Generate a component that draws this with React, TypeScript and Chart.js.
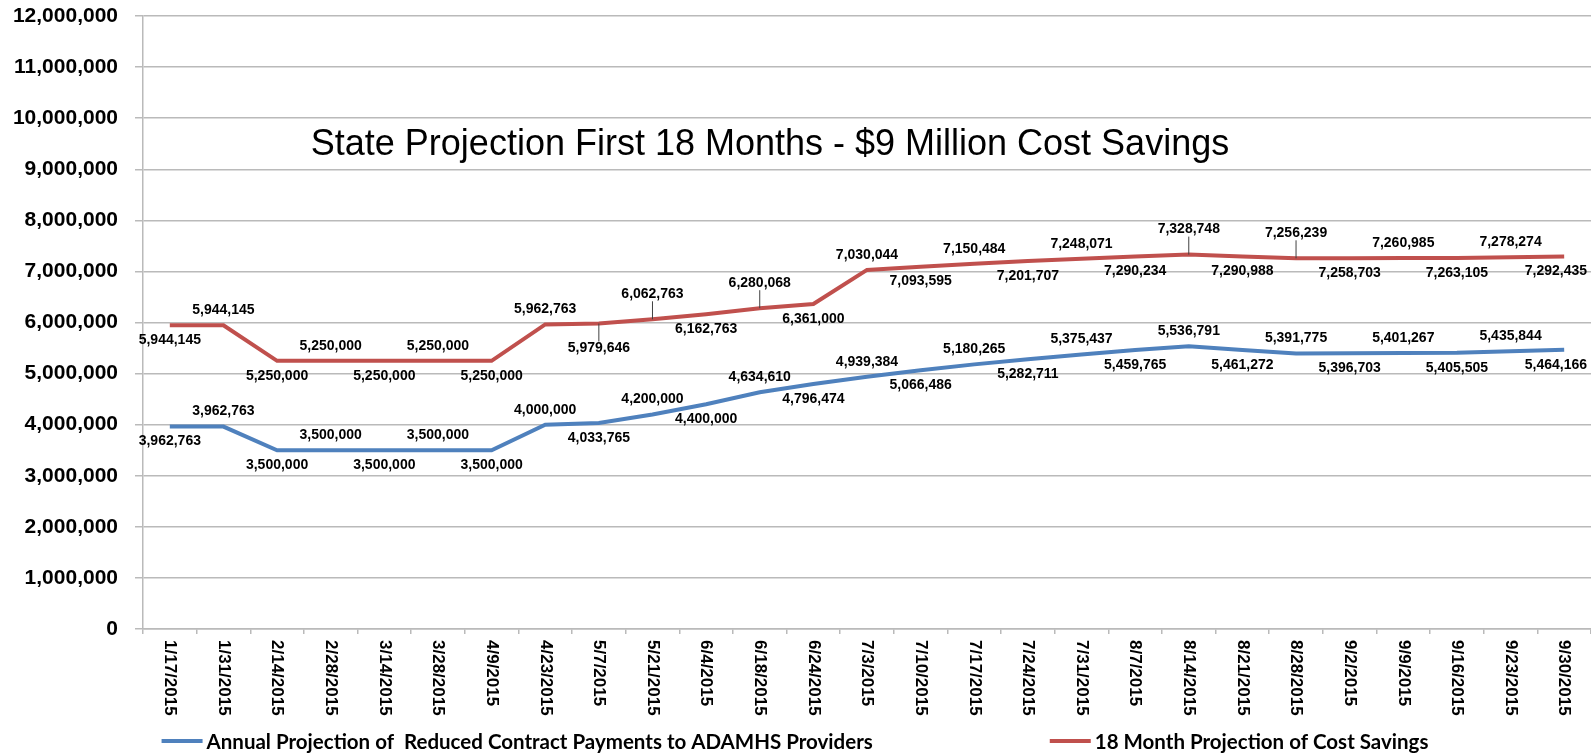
import React, { useEffect, useRef } from 'react';
import { Chart, registerables } from 'chart.js';

Chart.register(...registerables);

const categories = [
  '1/17/2015', '1/31/2015', '2/14/2015', '2/28/2015', '3/14/2015', '3/28/2015', '4/9/2015',
  '4/23/2015', '5/7/2015', '5/21/2015', '6/4/2015', '6/18/2015', '6/24/2015', '7/3/2015',
  '7/10/2015', '7/17/2015', '7/24/2015', '7/31/2015', '8/7/2015', '8/14/2015', '8/21/2015',
  '8/28/2015', '9/2/2015', '9/9/2015', '9/16/2015', '9/23/2015', '9/30/2015',
];

const annualProjection = [
  3962763, 3962763, 3500000, 3500000, 3500000, 3500000, 3500000,
  4000000, 4033765, 4200000, 4400000, 4634610, 4796474, 4939384,
  5066486, 5180265, 5282711, 5375437, 5459765, 5536791, 5461272,
  5391775, 5396703, 5401267, 5405505, 5435844, 5464166,
];

const costSavings = [
  5944145, 5944145, 5250000, 5250000, 5250000, 5250000, 5250000,
  5962763, 5979646, 6062763, 6162763, 6280068, 6361000, 7030044,
  7093595, 7150484, 7201707, 7248071, 7290234, 7328748, 7290988,
  7256239, 7258703, 7260985, 7263105, 7278274, 7292435,
];

const seriesNames = [
  'Annual Projection of  Reduced Contract Payments to ADAMHS Providers',
  '18 Month Projection of Cost Savings',
];

const chartTitle = 'State Projection First 18 Months - $9 Million Cost Savings';

const yMin = 0;
const yMax = 12000000;
const yStep = 1000000;

// indices of the red series whose labels sit farther out with a leader line
const leaderPoints = [8, 9, 11, 19, 21];

const BLUE = '#4F81BD';
const RED = '#C0504D';
const GRID = '#BABABA';
const FONT = '"Liberation Sans", Arial, sans-serif';

const fmt = (v: number) => Math.round(v).toLocaleString('en-US');

const overlayPlugin = {
  id: 'overlay',
  afterDatasetsDraw(chart: any) {
    const ctx = chart.ctx as CanvasRenderingContext2D;
    ctx.save();
    ctx.font = `bold 14px ${FONT}`;
    ctx.fillStyle = '#000';
    ctx.textAlign = 'center';
    ctx.textBaseline = 'middle';
    chart.data.datasets.forEach((ds: any, di: number) => {
      const meta = chart.getDatasetMeta(di);
      meta.data.forEach((pt: any, i: number) => {
        const v = ds.data[i] as number;
        const above = i % 2 === 1;
        const leader = di === 1 && leaderPoints.includes(i);
        const off = leader ? 25 : 15;
        const text = fmt(v);
        const w = ctx.measureText(text).width;
        let x = pt.x;
        const y = above ? pt.y - off : pt.y + off;
        x = Math.min(x, chart.width - w / 2 - 4);
        if (leader) {
          ctx.save();
          ctx.strokeStyle = '#404040';
          ctx.lineWidth = 1;
          ctx.beginPath();
          ctx.moveTo(pt.x, pt.y);
          ctx.lineTo(x, above ? y + 7 : y - 7);
          ctx.stroke();
          ctx.restore();
        }
        ctx.fillText(text, x, y);
      });
    });
    ctx.restore();
  },
  afterDraw(chart: any) {
    const ctx = chart.ctx as CanvasRenderingContext2D;
    const area = chart.chartArea;
    const xs = chart.scales.x;
    const ys = chart.scales.y;

    // title inside plot area
    ctx.save();
    ctx.font = `36px ${FONT}`;
    ctx.fillStyle = '#000';
    ctx.textAlign = 'center';
    ctx.textBaseline = 'middle';
    ctx.fillText(chartTitle, area.left + (area.right - area.left) * 0.433, ys.getPixelForValue(9476000));
    ctx.restore();

    // rotated x labels (reading top to bottom)
    ctx.save();
    ctx.font = `bold 17px ${FONT}`;
    ctx.fillStyle = '#000';
    ctx.textAlign = 'left';
    ctx.textBaseline = 'middle';
    categories.forEach((lab, i) => {
      const x = xs.getPixelForValue(i);
      ctx.save();
      ctx.translate(x, xs.top + 11);
      ctx.rotate(Math.PI / 2);
      ctx.fillText(lab, 0, 0);
      ctx.restore();
    });
    ctx.restore();

    // legend at the bottom
    ctx.save();
    ctx.font = `bold 20.5px Lato, ${FONT}`;
    ctx.textBaseline = 'middle';
    ctx.textAlign = 'left';
    ctx.fillStyle = '#000';
    const lineW = 41;
    const gapA = 4;
    const gapB = 177;
    const w1 = ctx.measureText(seriesNames[0]).width;
    const w2 = ctx.measureText(seriesNames[1]).width;
    const total = lineW + gapA + w1 + gapB + lineW + gapA + w2;
    let x = 795 - total / 2;
    const y = 741;
    const colors = [BLUE, RED];
    [w1, w2].forEach((w, k) => {
      ctx.strokeStyle = colors[k];
      ctx.lineWidth = 4;
      ctx.beginPath();
      ctx.moveTo(x, y);
      ctx.lineTo(x + lineW, y);
      ctx.stroke();
      x += lineW + gapA;
      ctx.fillText(seriesNames[k], x, y + 1);
      x += w + gapB;
    });
    ctx.restore();
  },
};

export default function App() {
  const ref = useRef<HTMLCanvasElement | null>(null);

  useEffect(() => {
    document.body.style.margin = '0';
    const canvas = ref.current;
    if (!canvas) return;
    const chart = new Chart(canvas, {
      type: 'line',
      data: {
        labels: categories,
        datasets: [
          {
            label: seriesNames[0],
            data: annualProjection,
            borderColor: BLUE,
            backgroundColor: BLUE,
            borderWidth: 4,
            pointRadius: 0,
            tension: 0,
            fill: false,
          },
          {
            label: seriesNames[1],
            data: costSavings,
            borderColor: RED,
            backgroundColor: RED,
            borderWidth: 4,
            pointRadius: 0,
            tension: 0,
            fill: false,
          },
        ],
      },
      options: {
        responsive: false,
        animation: false,
        layout: { padding: { left: 13, top: 16, right: -4, bottom: 0 } },
        plugins: {
          legend: { display: false },
          title: { display: false },
          tooltip: { enabled: false },
        },
        scales: {
          x: {
            type: 'category',
            offset: true,
            grid: {
              display: true,
              drawOnChartArea: false,
              drawTicks: true,
              tickLength: 5,
              color: GRID,
              lineWidth: 1.5,
              offset: true,
            },
            border: { display: true, color: GRID, width: 1.5 },
            ticks: { display: false },
            afterFit: (s: any) => {
              s.height = 124;
            },
          },
          y: {
            min: yMin,
            max: yMax,
            ticks: {
              stepSize: yStep,
              callback: (v: any) => fmt(Number(v)),
              font: { family: FONT, size: 21, weight: 'bold' },
              color: '#000',
              padding: 17,
            },
            grid: { color: GRID, lineWidth: 1.5, tickLength: 8, drawTicks: true },
            border: { display: true, color: GRID, width: 1.5 },
            afterFit: (s: any) => {
              s.width = 130;
              s.paddingTop = 0;
              s.paddingBottom = 0;
            },
          },
        },
      },
      plugins: [overlayPlugin],
    } as any);
    return () => chart.destroy();
  }, []);

  return (
    <div style={{ position: 'absolute', left: 0, top: 0, width: 1591, height: 753, background: '#fff' }}>
      <canvas ref={ref} width={1591} height={753} />
    </div>
  );
}
